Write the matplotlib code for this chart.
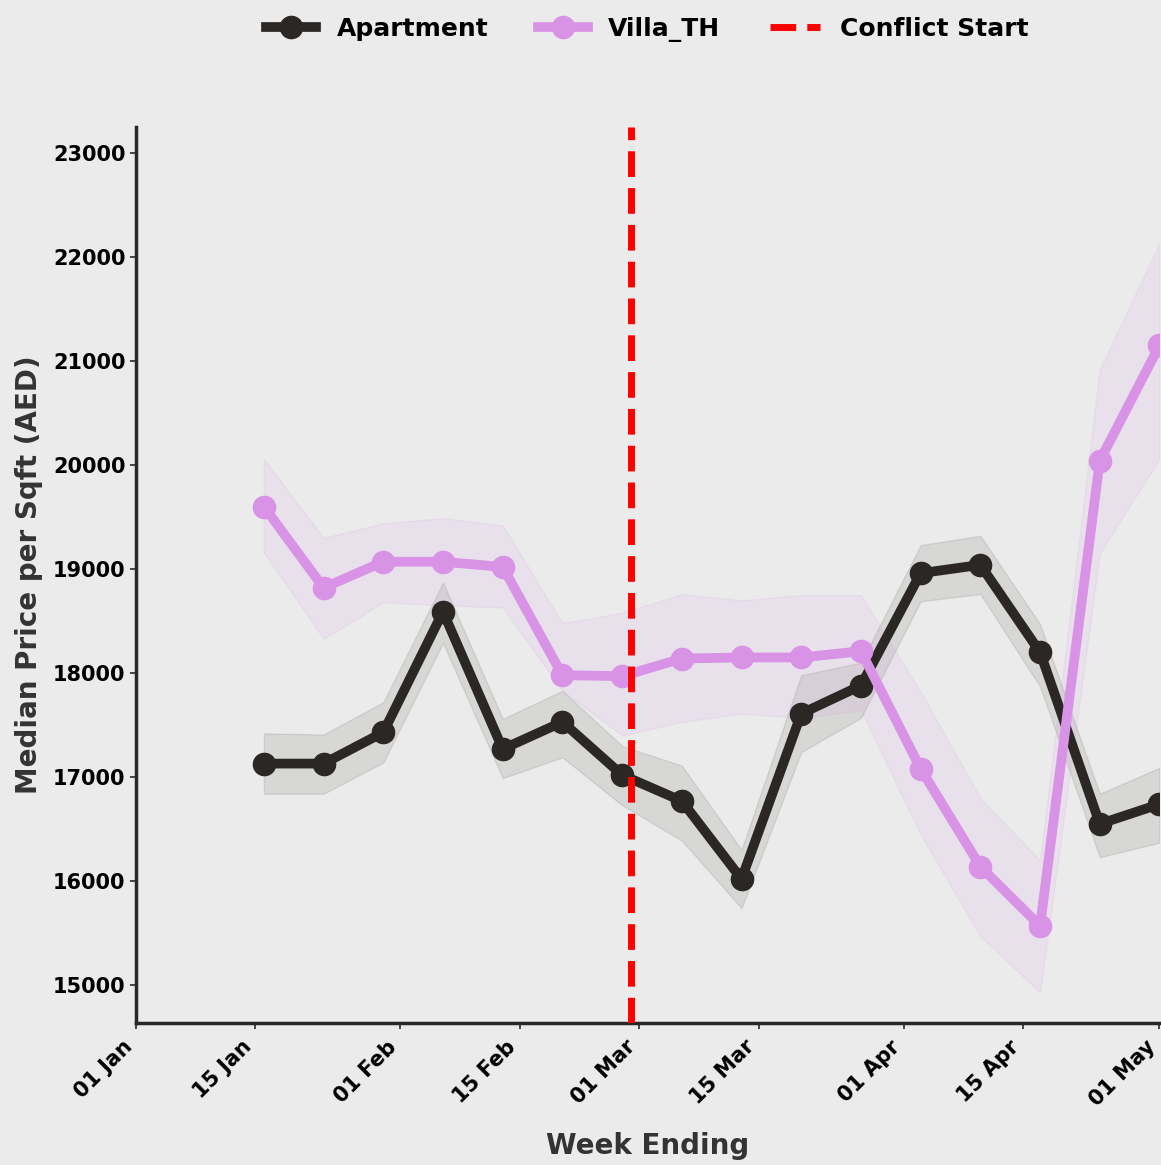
import matplotlib
matplotlib.use("Agg")
import matplotlib.dates as mdates
import matplotlib.pyplot as plt
import numpy as np
from matplotlib.ticker import MultipleLocator

BG = "#ebebeb"
APT_COLOR = "#2b2724"
VILLA_COLOR = "#d993e6"

week_ending = [
    "2026-01-16", "2026-01-23", "2026-01-30", "2026-02-06",
    "2026-02-13", "2026-02-20", "2026-02-27", "2026-03-06",
    "2026-03-13", "2026-03-20", "2026-03-27", "2026-04-03",
    "2026-04-10", "2026-04-17", "2026-04-24", "2026-05-01",
]

# median AED per sqft, with the low / high edges of the confidence band
apartment = [17130, 17130, 17430, 18590, 17270, 17530, 17020, 16770,
             16020, 17610, 17880, 18960, 19040, 18200, 16550, 16740]
apartment_low = [16840, 16840, 17140, 18290, 16990, 17190, 16730, 16390,
                 15740, 17240, 17570, 18690, 18760, 17870, 16230, 16370]
apartment_high = [17420, 17410, 17720, 18870, 17560, 17830, 17300, 17110,
                  16300, 17980, 18100, 19230, 19320, 18470, 16840, 17090]

villa_th = [19600, 18820, 19070, 19070, 19020, 17980, 17970, 18140,
            18150, 18150, 18210, 17080, 16140, 15570, 20040, 21150]
villa_low = [19160, 18330, 18680, 18650, 18630, 17830, 17400, 17530,
             17610, 17570, 17640, 16450, 15470, 14930, 19150, 20060]
villa_high = [20060, 19300, 19440, 19490, 19420, 18480, 18580, 18760,
              18700, 18750, 18750, 17820, 16800, 16200, 20920, 22130]

conflict_start = "2026-02-28"

dates = np.array(week_ending, dtype="datetime64[D]")

fig = plt.figure(figsize=(11.61, 11.65), dpi=100, facecolor=BG)
ax = fig.add_axes([0.1171, 0.1222, 0.8816, 0.7689], facecolor=BG)

ax.fill_between(dates, apartment_low, apartment_high, color=APT_COLOR,
                alpha=0.1, linewidth=1)
ax.plot(dates, apartment, color=APT_COLOR, linewidth=7, marker="o",
        markersize=16, label="Apartment", zorder=3)

ax.fill_between(dates, villa_low, villa_high, color=VILLA_COLOR,
                alpha=0.12, linewidth=1)
ax.plot(dates, villa_th, color=VILLA_COLOR, linewidth=7, marker="o",
        markersize=16, label="Villa_TH", zorder=4)

ax.axvline(np.datetime64(conflict_start), color="red", linestyle="--",
           linewidth=5, label="Conflict Start", zorder=5)

ax.set_xlim(np.datetime64("2026-01-01"), np.datetime64("2026-05-01"))
ax.set_ylim(14640, 23250)

ax.xaxis.set_major_locator(mdates.DayLocator(bymonthday=[1, 15]))
ax.xaxis.set_major_formatter(mdates.DateFormatter("%d %b"))
ax.yaxis.set_major_locator(MultipleLocator(1000))

ax.tick_params(axis="both", labelsize=15, length=4, width=1.2,
               color=APT_COLOR)
ax.tick_params(axis="x", pad=6)
for lab in ax.get_xticklabels() + ax.get_yticklabels():
    lab.set_fontweight("bold")
plt.setp(ax.get_xticklabels(), rotation=45, ha="right")

for side in ["top", "right"]:
    ax.spines[side].set_visible(False)
for side in ["left", "bottom"]:
    ax.spines[side].set_linewidth(2.5)
    ax.spines[side].set_color(APT_COLOR)

ax.set_xlabel("Week Ending", fontsize=20, fontweight="bold",
              color="#333333", labelpad=16)
ax.set_ylabel("Median Price per Sqft (AED)", fontsize=20,
              fontweight="bold", color="#333333", labelpad=7)

ax.legend(loc="center", bbox_to_anchor=(0.5, 1.109), ncol=3,
          frameon=False, prop={"size": 18, "weight": "bold"},
          handlelength=2.0, numpoints=1)

fig.savefig("out.png", dpi=100, facecolor=BG)
